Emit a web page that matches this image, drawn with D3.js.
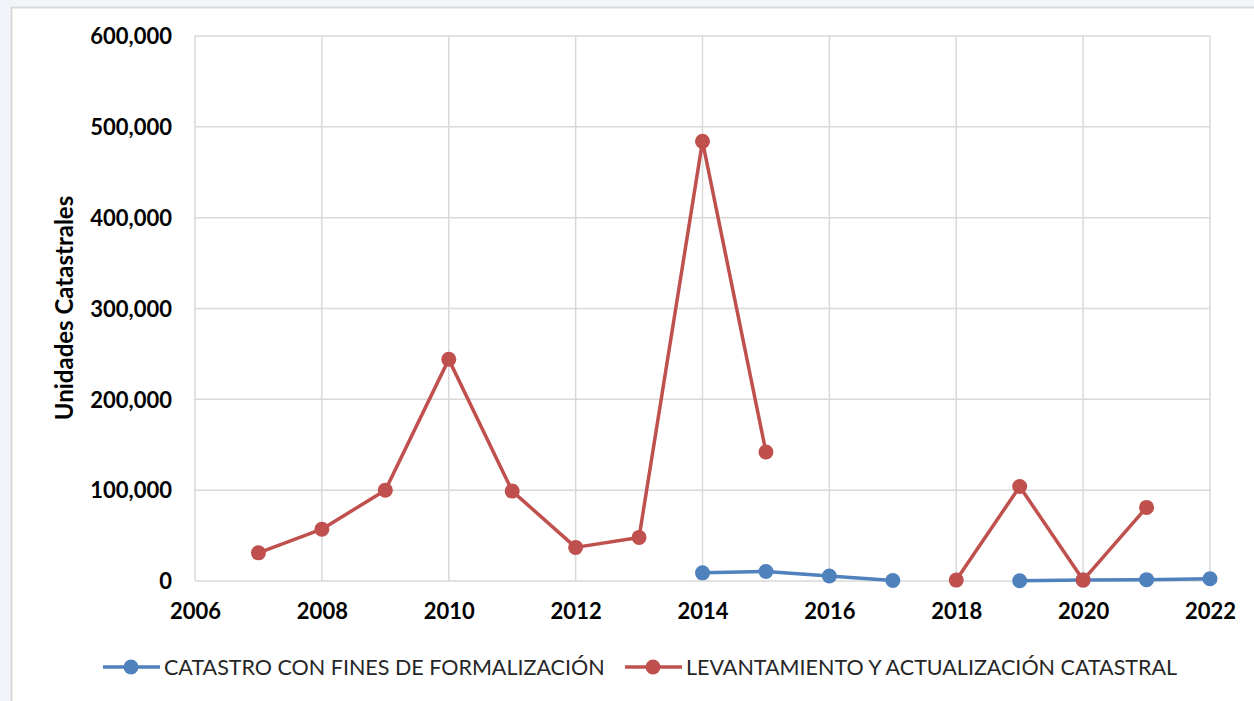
<!DOCTYPE html>
<meta charset="utf-8">
<style type="text/css">
    body{ margin: 0; background: #f1f4f8; }
    svg{ display: block; }
    text{ font-family: Lato, "Open Sans", sans-serif; fill: #000; }
    .tick text{ font-weight: bold; font-size: 22px; }
</style>
<body>
<script src="https://cdn.jsdelivr.net/npm/d3@7"></script>
<script>
// years shown on the chart
var years = [2007, 2008, 2009, 2010, 2011, 2012, 2013, 2014, 2015, 2016, 2017, 2018, 2019, 2020, 2021, 2022];

// series values (null = no point)
var catastroFormalizacion = [null, null, null, null, null, null, null, 9000, 10500, 5500, 500, null, 200, 1200, 1500, 2500];
var levantamiento = [31000, 57000, 100000, 244000, 99000, 37000, 48000, 484000, 142000, null, null, 1000, 104000, 1000, 81000, null];

var seriesNames = ["CATASTRO CON FINES DE FORMALIZACIÓN", "LEVANTAMIENTO Y ACTUALIZACIÓN CATASTRAL"];
var seriesColors = ["#4f81bd", "#c0504d"];

var xTicks = [2006, 2008, 2010, 2012, 2014, 2016, 2018, 2020, 2022];
var yTicks = [0, 100000, 200000, 300000, 400000, 500000, 600000];

var W = 1254, H = 701;
var plot = {left: 195, top: 36, right: 1210, bottom: 581};

var svg = d3.select("body").append("svg")
  .attr("width", W)
  .attr("height", H);

//chart frame
svg.append("rect")
  .attr("x", 11.5).attr("y", 7.5)
  .attr("width", W + 10).attr("height", H + 10)
  .attr("fill", "#fff")
  .attr("stroke", "#d9d9d9")
  .attr("stroke-width", 2);

var x = d3.scaleLinear().domain([2006, 2022]).range([plot.left, plot.right]);
var y = d3.scaleLinear().domain([0, 600000]).range([plot.bottom, plot.top]);

//gridlines
svg.append("g")
  .selectAll("line.h")
  .data(yTicks)
  .enter().append("line")
  .attr("x1", plot.left).attr("x2", plot.right)
  .attr("y1", function(d){ return y(d); })
  .attr("y2", function(d){ return y(d); })
  .attr("stroke", "#d9d9d9").attr("stroke-width", 1.5);

svg.append("g")
  .selectAll("line.v")
  .data(xTicks)
  .enter().append("line")
  .attr("x1", function(d){ return x(d); })
  .attr("x2", function(d){ return x(d); })
  .attr("y1", plot.top).attr("y2", plot.bottom)
  .attr("stroke", "#d9d9d9").attr("stroke-width", 1.5);

//axes
var yAxis = svg.append("g")
  .attr("transform", "translate(" + (plot.left - 20) + ",0)")
  .call(d3.axisLeft(y).tickValues(yTicks).tickSize(0).tickFormat(d3.format(",")));
yAxis.select(".domain").remove();
yAxis.selectAll("text").attr("dy", "0.35em");

var xAxis = svg.append("g")
  .attr("transform", "translate(0," + (plot.bottom + 19) + ")")
  .call(d3.axisBottom(x).tickValues(xTicks).tickSize(0).tickFormat(d3.format("d")));
xAxis.select(".domain").remove();
xAxis.selectAll("text").attr("dy", "0.71em");

svg.append("text")
  .attr("transform", "translate(73,308) rotate(-90)")
  .attr("text-anchor", "middle")
  .style("font-weight", "bold")
  .style("font-size", "24px")
  .text("Unidades Catastrales");

//lines
var series = [catastroFormalizacion, levantamiento];

var line = d3.line()
  .defined(function(d){ return d.v !== null; })
  .x(function(d){ return x(d.year); })
  .y(function(d){ return y(d.v); });

series.forEach(function(vals, i){
  var pts = years.map(function(yr, j){ return {year: yr, v: vals[j]}; });

  svg.append("path")
    .datum(pts)
    .attr("d", line)
    .attr("fill", "none")
    .attr("stroke", seriesColors[i])
    .attr("stroke-width", 3.5)
    .attr("stroke-linejoin", "round");

  svg.append("g")
    .selectAll("circle")
    .data(pts.filter(function(d){ return d.v !== null; }))
    .enter().append("circle")
    .attr("cx", function(d){ return x(d.year); })
    .attr("cy", function(d){ return y(d.v); })
    .attr("r", 7.5)
    .attr("fill", seriesColors[i]);
});

//legend
var legendX = [103, 625];
var legend = svg.append("g");
seriesNames.forEach(function(name, i){
  var g = legend.append("g").attr("transform", "translate(" + legendX[i] + ",667)");
  g.append("line").attr("x1", 0).attr("x2", 57)
    .attr("stroke", seriesColors[i]).attr("stroke-width", 3.5);
  g.append("circle").attr("cx", 28).attr("r", 7.5).attr("fill", seriesColors[i]);
  g.append("text").attr("x", 61).attr("dy", "0.35em")
    .style("font-size", "21.5px")
    .style("fill", "#262626")
    .text(name);
});
</script>
